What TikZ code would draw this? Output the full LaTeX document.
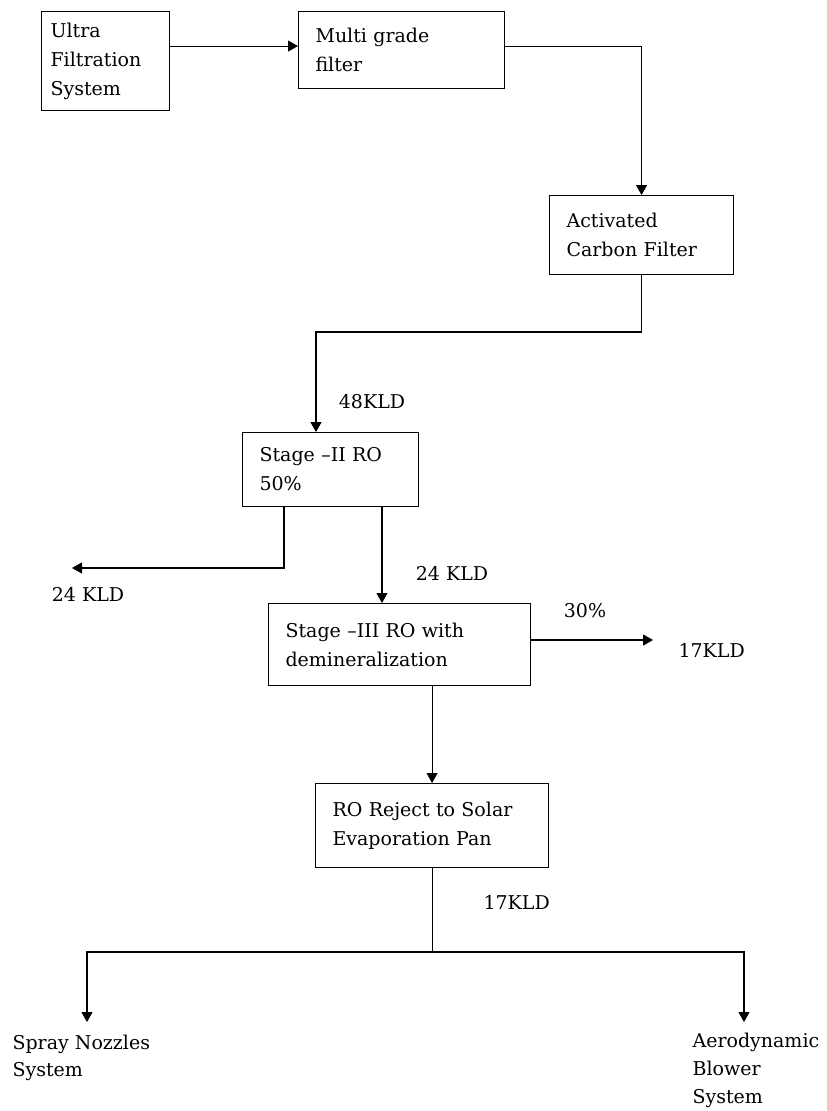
\documentclass[tikz,border=0pt]{standalone}
\usepackage{fontspec}
\setmainfont{DejaVu Serif}
\usetikzlibrary{arrows.meta, positioning, calc}

\newcommand{\flowfont}{\fontsize{19}{29}\selectfont}
\newcommand{\outletfont}{\fontsize{19}{27.5}\selectfont}

\tikzset{
  box/.style={draw, anchor=north west, align=left, inner xsep=17pt, inner ysep=0pt, font=\flowfont},
  flow/.style={-{Triangle[length=10pt, width=11pt]}},
  lbl/.style={font=\flowfont, inner sep=0pt}
}

\begin{document}
\begin{tikzpicture}[x=1pt, y=-1pt, line width=1.1pt]
    \useasboundingbox (0,0) rectangle (827,1111);

    % Treatment units
    \node[box, inner xsep=9pt, text width=110pt, minimum height=99pt] (ultra) at (41,11) {Ultra\\Filtration\\System};
    \node[box, text width=172pt, minimum height=77pt] (multi) at (298,11) {Multi grade\\filter};
    \node[box, text width=150pt, minimum height=79pt] (activated) at (549,195) {Activated\\Carbon Filter};
    \node[box, text width=142pt, minimum height=74pt] (stageII) at (242,432) {Stage --II RO\\50\%};
    \node[box, text width=228pt, minimum height=82pt] (stageIII) at (268,603) {Stage --III RO with\\demineralization};
    \node[box, text width=199pt, minimum height=84pt] (ro) at (315,783) {RO Reject to Solar\\Evaporation Pan};

    % Turning points and free ends
    \coordinate (turnA) at (316,332);
    \coordinate (rejB) at (284,568);
    \coordinate (rejA) at (72,568);
    \coordinate (permII) at (382,520);
    \coordinate (outIII) at (653,640);
    \coordinate (split) at (433,952);
    \coordinate (sprayEnd) at (87,1022);
    \coordinate (blowerEnd) at (744,1022);

    % Main line
    \draw[flow] ([yshift=4pt]multi.west -| ultra.east) -- ([yshift=4pt]multi.west);
    \draw[flow] ([yshift=4pt]multi.east) -| (activated.north);
    \draw[flow] (activated.south) |- (turnA) -- (turnA |- stageII.north);
    \draw[flow] (stageII.south -| rejB) -- (rejB) -- (rejA);
    \draw[flow] (stageII.south -| permII) -- (stageIII.north -| permII);
    \draw[flow] (stageIII.east |- outIII) -- (outIII);
    \draw[flow] (stageIII.south -| ro.north) -- (ro.north);

    % Split to the two outlets
    \draw (ro.south) -- (ro.south |- split);
    \draw[flow] (ro.south |- split) -| (sprayEnd);
    \draw[flow] (ro.south |- split) -| (blowerEnd);

    % Flow labels
    \node[lbl] (q48) at (372,402) {48KLD};
    \node[lbl] (q24a) at (88,594) {24 KLD};
    \node[lbl] (q24b) at (452,573) {24 KLD};
    \node[lbl] (pct30) at (585,611) {30\%};
    \node[lbl, anchor=west] (q17a) at (678,650) {17KLD};
    \node[lbl, anchor=west] (q17b) at (483,902) {17KLD};
    \node[lbl, font=\outletfont, anchor=north west, align=left] (spray) at (12,1034) {Spray Nozzles\\System};
    \node[lbl, font=\outletfont, anchor=north west, align=left] (blower) at (692,1033) {Aerodynamic\\Blower\\System};
\end{tikzpicture}
\end{document}
